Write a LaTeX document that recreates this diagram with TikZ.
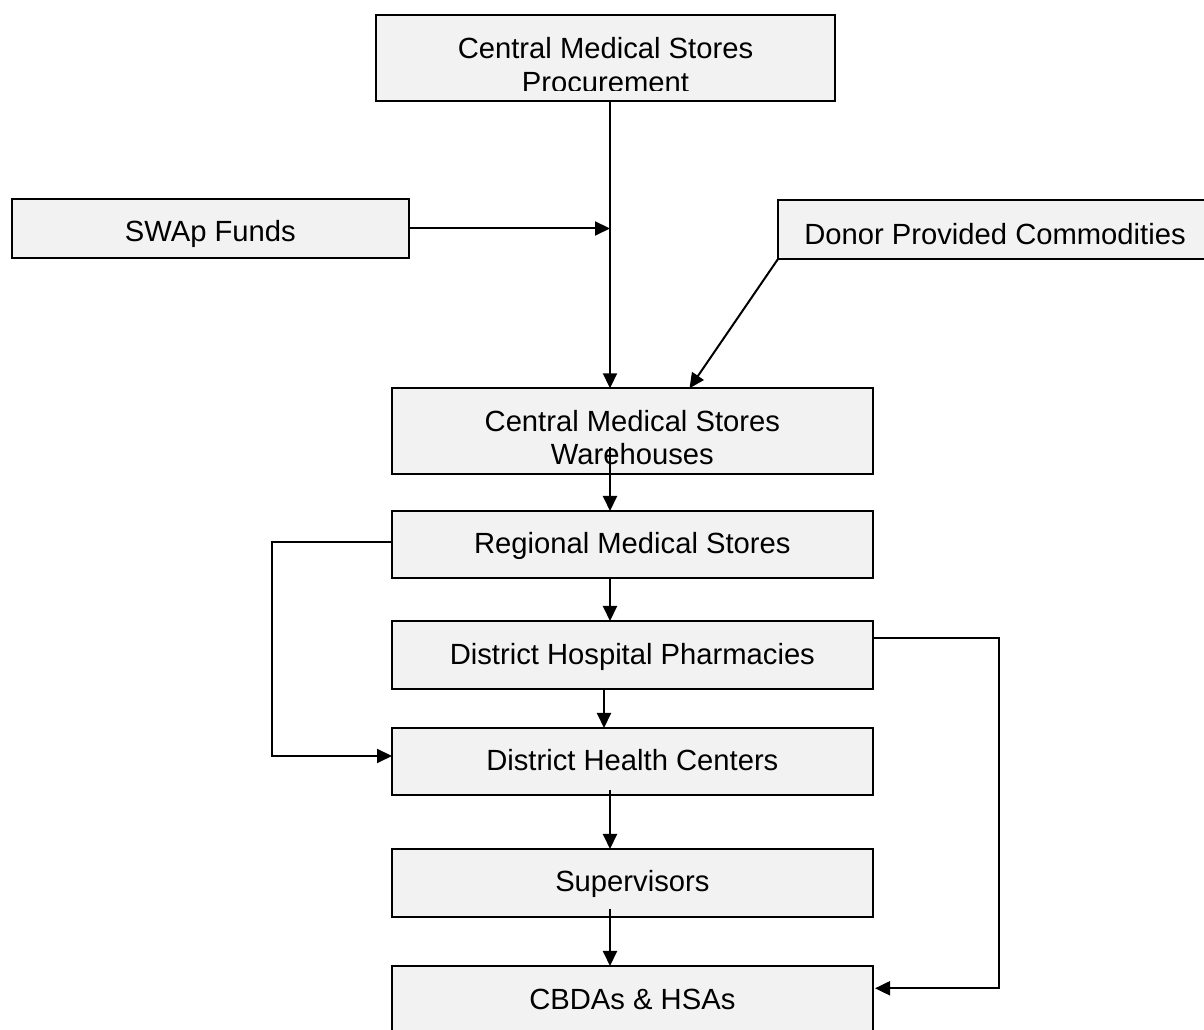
\documentclass[tikz,border=0pt]{standalone}
\usepackage{fontspec}
\setmainfont{Liberation Sans}
\usetikzlibrary{arrows.meta,calc}
\definecolor{boxfill}{HTML}{F2F2F2}
\begin{document}
\begin{tikzpicture}[x=1pt,y=1pt,
  box/.style={draw=black, line width=2pt, fill=boxfill, inner sep=0pt, outer sep=0pt},
  txt/.style={anchor=base, inner sep=0pt, outer sep=0pt, font=\fontsize{29.2}{34}\selectfont},
  arr/.style={line width=2pt, -{Triangle[length=15pt,width=14pt]}}]
\clip (0,0) rectangle (1204,1030);
\fill[white] (0,0) rectangle (1204,1030);

% boxes
\node[box, minimum width=459pt, minimum height=86pt] (proc) at (605.5,972) {};
\node[box, minimum width=397.3pt, minimum height=59pt] (swap) at (210.35,801.5) {};
\node[box, minimum width=434pt, minimum height=59pt] (donor) at (995,800.5) {};
\node[box, minimum width=480.7pt, minimum height=86pt] (wh) at (632.35,598.7) {};
\node[box, minimum width=480.7pt, minimum height=67.3pt] (reg) at (632.35,485.35) {};
\node[box, minimum width=480.7pt, minimum height=68pt] (dhp) at (632.35,375) {};
\node[box, minimum width=480.7pt, minimum height=67pt] (dhc) at (632.35,268.5) {};
\node[box, minimum width=480.7pt, minimum height=67.7pt] (sup) at (632.35,147.15) {};
\node[box, minimum width=480.7pt, minimum height=68pt] (cbda) at (632.35,30) {};

% texts
\node[txt] (procT1) at (605.5,971.8) {Central Medical Stores};
\begin{scope}
  \clip (376,939) rectangle (835,1015);
  \node[txt] (procT2) at (605.5,937.4) {Procurement};
\end{scope}
\node[txt] (swapT) at (210.35,788.3) {SWAp Funds};
\node[txt] (donorT) at (995,785.7) {Donor Provided Commodities};
\node[txt] (whT1) at (632.35,598.5) {Central Medical Stores};
\node[txt] (whT2) at (632.35,565) {Warehouses};
\node[txt] (regT) at (632.35,476) {Regional Medical Stores};
\node[txt] (dhpT) at (632.35,365) {District Hospital Pharmacies};
\node[txt] (dhcT) at (632.35,259.3) {District Health Centers};
\node[txt] (supT) at (632.35,138.3) {Supervisors};
\node[txt] (cbdaT) at (632.35,20) {CBDAs \& HSAs};

% helper coordinates
\coordinate (trunk) at (610,0);
\coordinate (lx) at (271.7,0);
\coordinate (rx) at (999,0);
\coordinate (regL) at ([yshift=3pt]reg.west);
\coordinate (dhcL) at ([yshift=5.5pt]dhc.west);
\coordinate (dhpR) at ([yshift=16.7pt]dhp.east);
\coordinate (cbdaR) at ([xshift=2.3pt,yshift=11.7pt]cbda.east);

% connectors
\draw[arr] (proc.south -| trunk) -- (wh.north -| trunk);
\draw[arr] (swap.east) -- (swap.east -| trunk);
\draw[arr] (donor.south west) -- ([xshift=297.5pt]wh.north west);
\draw[arr] ($(wh.south -| trunk)+(0,27.6)$) -- (reg.north -| trunk);
\draw[arr] (reg.south -| trunk) -- (dhp.north -| trunk);
\draw[arr] ([xshift=-28.35pt]dhp.south) -- ([xshift=-28.35pt]dhc.north);
\draw[arr] ($(dhc.south -| trunk)+(0,5)$) -- (sup.north -| trunk);
\draw[arr] ($(sup.south -| trunk)+(0,7.7)$) -- (cbda.north -| trunk);
\draw[arr] (regL) -- (regL -| lx) -- (dhcL -| lx) -- (dhcL);
\draw[arr] (dhpR) -- (dhpR -| rx) -- (cbdaR -| rx) -- (cbdaR);
\end{tikzpicture}
\end{document}
